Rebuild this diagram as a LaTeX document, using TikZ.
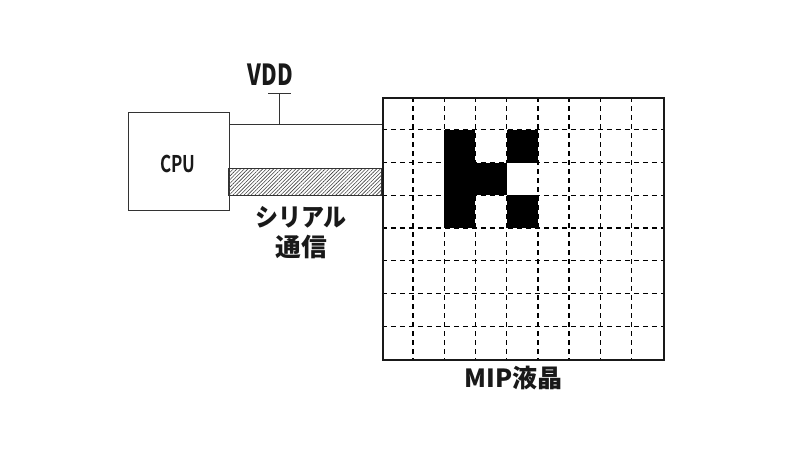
\documentclass[tikz,border=0pt]{standalone}
\usepackage{fontspec}
\setmainfont{Noto Sans CJK JP}[BoldFont={Noto Sans CJK JP Black}]
\newfontfamily\cpufont{Noto Sans CJK JP Bold}
\usetikzlibrary{calc, positioning}
\usetikzlibrary{patterns.meta}
\tikzset{
    wire/.style={line width=0.9pt, draw=black!80},
    tag/.style={font=\bfseries\fontsize{25}{25}\selectfont, inner sep=0pt, text=black!90},
    narrow/.style={xscale=0.74},
    gridline/.style={line width=1.3pt, dash pattern=on 5pt off 4pt},
}

\begin{document}
\begin{tikzpicture}[x=1pt, y=-1pt]
        \useasboundingbox (0,0) rectangle (800,450);

        \pgfmathsetmacro{\cellW}{281/9}
        \pgfmathsetmacro{\cellH}{262/8}

        % lit pixels
        \foreach \col/\row in {2/1, 2/2, 2/3, 3/2, 4/1, 4/3}
            \fill[black] ({381.8+\col*\cellW},{97+\row*\cellH}) rectangle ++(\cellW,\cellH);

        \foreach \col in {1,...,8}
            \draw[gridline] ({381.8+\col*\cellW},97) -- ({381.8+\col*\cellW},359);
        \foreach \row in {1,...,7}
            \draw[gridline] (381.8,{97+\row*\cellH}) -- (662.8,{97+\row*\cellH});

        \node[draw=black!90, line width=2pt, minimum width=281pt, minimum height=262pt,
              inner sep=0pt, anchor=north west] (lcd) at (381.8,97) {};
        \node[draw=black!80, line width=0.9pt, minimum width=101pt, minimum height=98pt,
              inner sep=0pt, anchor=north west] (cpu) at (127.5,112) {};
        \node[tag, narrow, font=\cpufont\fontsize{23}{23}\selectfont] (cpulabel) at (178,164) {CPU};

        % power line
        \coordinate (tap) at (279.5,124.5);
        \coordinate (vddend) at (279.5,93);
        \draw[wire] (cpu.east |- tap) -- (lcd.west |- tap);
        \draw[wire] (tap) -- (vddend);
        \draw[wire] ($(vddend)+(-11.5,0)$) -- ($(vddend)+(11.5,0)$);
        \node[tag, narrow, font=\bfseries\fontsize{29}{29}\selectfont] (vdd) at (270.5,75) {VDD};

        % serial bus
        \coordinate (bustop) at (228.5,168);
        \coordinate (busbot) at (381.8,195);
        \draw[wire, pattern={Lines[angle=45, distance=2.6pt, line width=0.6pt]},
              pattern color=black!75] (bustop) rectangle (busbot);

        \node[tag, xscale=0.92] (serial) at (301,217) {シリアル};
        \node[tag, below=7pt of serial, xscale=1.03] (comm) {通信};
        \node[tag] (lcdlabel) at (513.5,378) {MIP液晶};
    \end{tikzpicture}
\end{document}
